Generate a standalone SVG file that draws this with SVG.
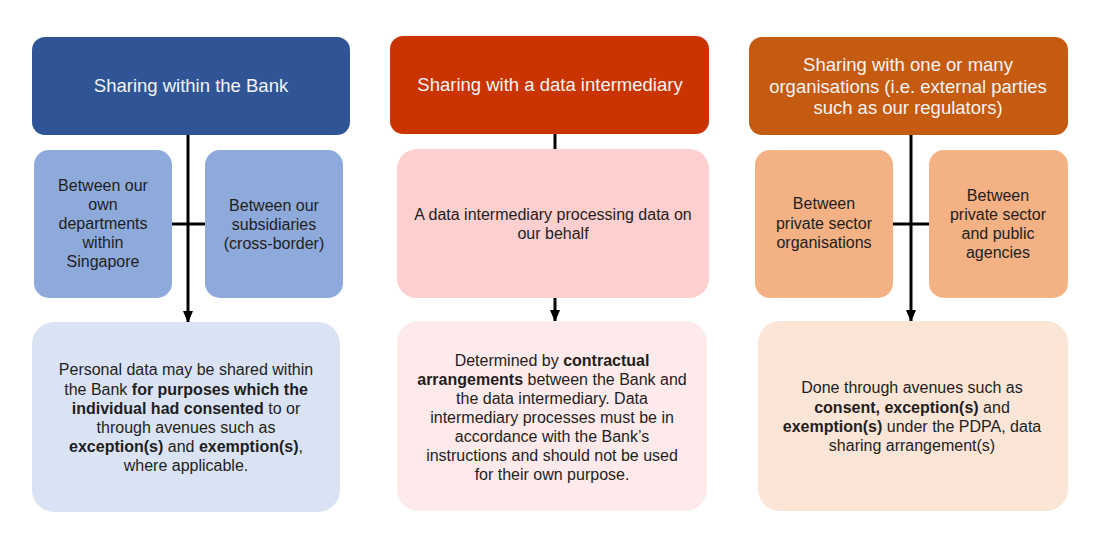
<svg xmlns="http://www.w3.org/2000/svg" width="1100" height="550" viewBox="0 0 1100 550">
<defs>
<style>
text{font-family:"Liberation Sans",Arial,sans-serif;text-anchor:middle}
.h{font-size:18.5px;fill:#F4F4F4}
.t{font-size:16px;fill:#1E1E1E}
.b{font-weight:bold}
.ln{stroke:#000;stroke-width:3;fill:none}
</style>
<marker id="ah" viewBox="0 0 12 10" refX="11" refY="5" markerWidth="4" markerHeight="3.4" orient="auto" markerUnits="strokeWidth">
<path d="M0,0 L12,5 L0,10 Z" fill="#000"/>
</marker>
</defs>
<rect width="1100" height="550" fill="#fff"/>
<g id="connectors">
<path class="ln" d="M188,135 V322" marker-end="url(#ah)"/>
<path class="ln" d="M172,224 H205"/>
<path class="ln" d="M555,134 V149"/>
<path class="ln" d="M555,298 V321" marker-end="url(#ah)"/>
<path class="ln" d="M911,135 V321" marker-end="url(#ah)"/>
<path class="ln" d="M893,224 H929"/>
</g>
<g id="n-bank">
<rect x="32" y="37" width="318" height="98" rx="13" fill="#2F5597"/>
<text class="h" x="191" y="92">Sharing within the Bank</text>
</g>
<g id="n-dept">
<rect x="34" y="150" width="138" height="148" rx="15" fill="#8EAADB"/>
<text class="t" x="103"><tspan x="103" y="191">Between our</tspan><tspan x="103" y="210">own</tspan><tspan x="103" y="229">departments</tspan><tspan x="103" y="248">within</tspan><tspan x="103" y="267">Singapore</tspan></text>
</g>
<g id="n-subs">
<rect x="205" y="150" width="138" height="148" rx="15" fill="#8EAADB"/>
<text class="t" x="274"><tspan x="274" y="211">Between our</tspan><tspan x="274" y="230">subsidiaries</tspan><tspan x="274" y="249">(cross-border)</tspan></text>
</g>
<g id="n-bank-desc">
<rect x="32" y="322" width="308" height="190" rx="22" fill="#DAE3F3"/>
<text class="t" x="186"><tspan x="186" y="375">Personal data may be shared within</tspan><tspan x="186" y="395">the Bank <tspan class="b">for purposes which the</tspan></tspan><tspan x="186" y="414"><tspan class="b">individual had consented</tspan> to or</tspan><tspan x="186" y="433">through avenues such as</tspan><tspan x="186" y="452"><tspan class="b">exception(s)</tspan> and <tspan class="b">exemption(s)</tspan>,</tspan><tspan x="186" y="471">where applicable.</tspan></text>
</g>
<g id="n-inter">
<rect x="390" y="36" width="319" height="98" rx="13" fill="#C93400"/>
<text class="h" x="550" y="91">Sharing with a data intermediary</text>
</g>
<g id="n-inter-mid">
<rect x="397" y="149" width="312" height="149" rx="20" fill="#FDCFCF"/>
<text class="t" x="553"><tspan x="553" y="220">A data intermediary processing data on</tspan><tspan x="553" y="239">our behalf</tspan></text>
</g>
<g id="n-inter-desc">
<rect x="397" y="321" width="310" height="190" rx="22" fill="#FEEAEA"/>
<text class="t" x="552"><tspan x="552" y="366">Determined by <tspan class="b">contractual</tspan></tspan><tspan x="552" y="385"><tspan class="b">arrangements</tspan> between the Bank and</tspan><tspan x="552" y="404">the data intermediary. Data</tspan><tspan x="552" y="423">intermediary processes must be in</tspan><tspan x="552" y="442">accordance with the Bank’s</tspan><tspan x="552" y="461">instructions and should not be used</tspan><tspan x="552" y="480">for their own purpose.</tspan></text>
</g>
<g id="n-orgs">
<rect x="749" y="37" width="319" height="98" rx="13" fill="#C55A11"/>
<text class="h" x="908"><tspan x="908" y="71">Sharing with one or many</tspan><tspan x="908" y="93">organisations (i.e. external parties</tspan><tspan x="908" y="114">such as our regulators)</tspan></text>
</g>
<g id="n-private">
<rect x="755" y="150" width="138" height="148" rx="15" fill="#F4B183"/>
<text class="t" x="824"><tspan x="824" y="209">Between</tspan><tspan x="824" y="229">private sector</tspan><tspan x="824" y="248">organisations</tspan></text>
</g>
<g id="n-public">
<rect x="929" y="150" width="139" height="148" rx="15" fill="#F4B183"/>
<text class="t" x="998"><tspan x="998" y="201">Between</tspan><tspan x="998" y="220">private sector</tspan><tspan x="998" y="239">and public</tspan><tspan x="998" y="258">agencies</tspan></text>
</g>
<g id="n-orgs-desc">
<rect x="758" y="321" width="310" height="190" rx="22" fill="#FBE5D6"/>
<text class="t" x="912"><tspan x="912" y="393">Done through avenues such as</tspan><tspan x="912" y="413"><tspan class="b">consent, exception(s)</tspan> and</tspan><tspan x="912" y="432"><tspan class="b">exemption(s)</tspan> under the PDPA, data</tspan><tspan x="912" y="451">sharing arrangement(s)</tspan></text>
</g>
</svg>
